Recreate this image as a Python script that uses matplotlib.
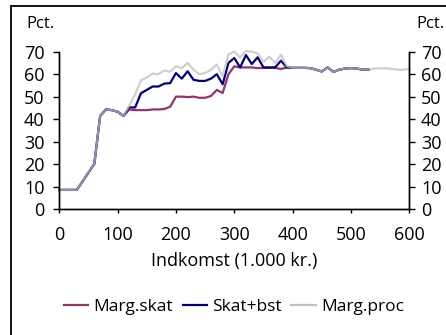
import matplotlib
matplotlib.use("Agg")
import matplotlib.pyplot as plt
from matplotlib.lines import Line2D

plt.rcParams['font.family'] = ['Open Sans', 'DejaVu Sans']

income = list(range(0, 610, 10))
marg_skat = [8.5, 8.5, 8.5, 8.5, 12.3, 16.2, 20, 41.4, 44.3, 44, 43.3, 41.4,
             44.3, 44, 44, 44, 44.3, 44.3, 44.5, 45.5, 50, 50, 49.8, 50, 49.5, 49.5, 50.3, 53,
             51.6, 60, 63.5, 63, 63, 63, 62.7, 62.8, 62.8, 62.8, 62.3, 63,
             62.8, 62.8, 62.8, 62.7, 62, 61.2, 63, 61, 62, 62.5, 62.7, 62.5, 62, 62]
skat_bst = [8.5, 8.5, 8.5, 8.5, 12.3, 16.2, 20, 41.4, 44.3, 44, 43.3, 41.4,
            45.2, 45.2, 51.5, 53, 54.5, 54.5, 55.8, 56, 60.5, 58, 61.3, 57.5, 57, 57, 58, 60,
            55.5, 65, 67.2, 63, 68.5, 64.5, 67.5, 63, 63, 63, 66, 63,
            62.8, 62.8, 62.8, 62.7, 62, 61.2, 63, 61, 62, 62.5, 62.7, 62.5, 62, 62]
marg_proc = [8.5, 8.5, 8.5, 8.5, 12.3, 16.2, 20, 41.4, 44.3, 44, 43.3, 41.4,
             46, 51, 57.3, 58.5, 60.3, 60, 61.7, 61, 63.5, 62.7, 65, 62, 60, 60.5, 62, 64.3,
             59, 68.8, 70, 67.5, 70.3, 70, 69.2, 65.5, 67.8, 65, 68.7, 63.5,
             62.8, 62.8, 62.8, 62.7, 62, 61.2, 63, 61, 62, 62.5, 62.7, 62.5, 62, 62,
             62.5, 62.6, 62.6, 62.3, 62, 62, 62.3]
labels = ["Marg.skat", "Skat+bst", "Marg.proc"]
colors = ["#993366", "#000080", "#C0C0C0"]
xticks = [0, 100, 200, 300, 400, 500, 600]
yticks = [0, 10, 20, 30, 40, 50, 60, 70]

fig = plt.figure(figsize=(4.46, 3.35), dpi=100)
W, H = 446, 335
ax = fig.add_axes([59.3 / W, (H - 209) / H, 350 / W, 157.3 / H])
ax2 = ax.twinx()

n1 = len(marg_skat)
n2 = len(skat_bst)
ax.plot(income[:n1], marg_skat, color=colors[0], lw=1.6, label=labels[0], clip_on=False)
ax.plot(income[:n2], skat_bst, color=colors[1], lw=1.6, label=labels[1], clip_on=False)
ax.plot(income, marg_proc, color=colors[2], lw=1.6, label=labels[2], alpha=0.75, clip_on=False)

ax.set_xlim(0, 600)
for a in (ax, ax2):
    a.set_ylim(0, 70)
    a.set_yticks(yticks)
    a.spines['top'].set_visible(False)
    for s in ['left', 'bottom', 'right']:
        a.spines[s].set_linewidth(1.0)
ax.set_xticks(xticks)
ax.tick_params(axis='y', direction='out', length=4.5, width=1.0, labelsize=13, pad=6)
ax2.tick_params(axis='y', direction='out', length=4.5, width=1.0, labelsize=13, pad=4)
ax.tick_params(axis='x', direction='out', length=3, width=1.0, labelsize=13, pad=9)
ax.set_xlabel("Indkomst (1.000 kr.)", fontsize=13, labelpad=6)

fig.text(26 / W, 1 - 24 / H, "Pct.", fontsize=12, ha='left', va='center')
fig.text(444 / W, 1 - 24 / H, "Pct.", fontsize=12, ha='right', va='center')

leg = fig.legend(*ax.get_legend_handles_labels(), loc='center',
                 bbox_to_anchor=(234 / W, 1 - 307 / H), ncol=3,
                 frameon=False, fontsize=12.5, handlelength=1.4, handletextpad=0.3,
                 columnspacing=0.55)
for h in leg.legend_handles:
    h.set_alpha(1)

# frame lines
fig.add_artist(Line2D([10.5 / W, 10.5 / W], [0, 1 - 5.5 / H], color='black', lw=1.3,
                      transform=fig.transFigure))
fig.add_artist(Line2D([10.5 / W, 1], [1 - 5.5 / H, 1 - 5.5 / H], color='black', lw=1.3,
                      transform=fig.transFigure))

fig.savefig("out.png", dpi=100)
